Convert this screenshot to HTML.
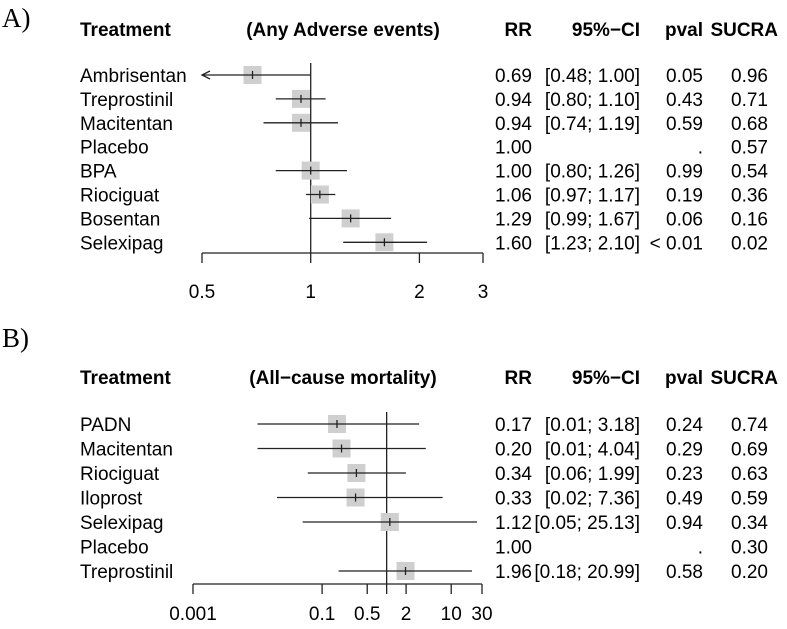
<!DOCTYPE html>
<html><head><meta charset="utf-8"><style>
body{margin:0;background:#fff}
svg{display:block;font-family:"Liberation Sans",Arial,sans-serif}
</style></head><body>
<svg id="s" width="787" height="629" viewBox="0 0 787 629">
<text x="2" y="27" font-family="Liberation Serif,serif" font-size="27">A)</text>
<text x="2" y="347" font-family="Liberation Serif,serif" font-size="27">B)</text>
<g id="ga"></g><g id="gb"></g>
</svg>
<script>
const namesA=["Ambrisentan","Treprostinil","Macitentan","Placebo","BPA","Riociguat","Bosentan","Selexipag"];
const rrA=[0.69,0.94,0.94,1.00,1.00,1.06,1.29,1.60];
const loA=[0.48,0.80,0.74,null,0.80,0.97,0.99,1.23];
const hiA=[1.00,1.10,1.19,null,1.26,1.17,1.67,2.10];
const pA=["0.05","0.43","0.59",".","0.99","0.19","0.06","< 0.01"];
const sucraA=["0.96","0.71","0.68","0.57","0.54","0.36","0.16","0.02"];
const ticksA=[0.5,1,2,3];
const tickLabelsA=["0.5","1","2","3"];

const namesB=["PADN","Macitentan","Riociguat","Iloprost","Selexipag","Placebo","Treprostinil"];
const rrB=[0.17,0.20,0.34,0.33,1.12,1.00,1.96];
const loB=[0.01,0.01,0.06,0.02,0.05,null,0.18];
const hiB=[3.18,4.04,1.99,7.36,25.13,null,20.99];
const pB=["0.24","0.29","0.23","0.49","0.94",".","0.58"];
const sucraB=["0.74","0.69","0.63","0.59","0.34","0.30","0.20"];
const ticksB=[0.001,0.1,0.5,1,2,10,30];
const tickLabelsB=["0.001","0.1","0.5","","2","10","30"];

const NS="http://www.w3.org/2000/svg";
const FS=19;
function mk(p,t,a,txt){const e=document.createElementNS(NS,t);for(const k in a)e.setAttribute(k,a[k]);if(txt!==undefined)e.textContent=txt;p.appendChild(e);return e;}

function panel(g,cfg){
  const {names,rr,lo,hi,p,sucra,ticks,labels,x0,x1,dmin,dmax,y0,dy,axisY,refTop,hy,title,key,lblOff}=cfg;
  const X=v=>x0+(Math.log(v)-Math.log(dmin))/(Math.log(dmax)-Math.log(dmin))*(x1-x0);
  const Y=i=>y0+i*dy;
  let t;
  t=mk(g,'text',{x:80,y:hy,'font-size':FS,'font-weight':'bold'},'Treatment');
  
  t=mk(g,'text',{x:343,y:hy,'font-size':FS,'font-weight':'bold','text-anchor':'middle'},title);
  
  const hd=[["RR",532],["95%\u2212CI",640],["pval",703],["SUCRA",778]];
  hd.forEach(h=>{t=mk(g,'text',{x:h[1],y:hy,'font-size':FS,'font-weight':'bold','text-anchor':'end'},h[0]);
    });
  let l=mk(g,'line',{x1:X(1),x2:X(1),y1:refTop,y2:axisY,stroke:'#222','stroke-width':1.3});
  
  l=mk(g,'line',{x1:x0,x2:x1,y1:axisY,y2:axisY,stroke:'#222','stroke-width':1.3});
  
  ticks.forEach((v,i)=>{
    const tk=mk(g,'line',{x1:X(v),x2:X(v),y1:axisY,y2:axisY+10,stroke:'#222','stroke-width':1.3});
    
    const tl=mk(g,'text',{x:X(v),y:axisY+lblOff,'font-size':FS,'text-anchor':'middle'},labels[i]);
    
  });
  names.forEach((n,i)=>{
    const y=Y(i);
    let e=mk(g,'text',{x:80,y:y+7,'font-size':FS},n);
    
    if(lo[i]!==null){
      const a=Math.max(lo[i],dmin),b=Math.min(hi[i],dmax);
      const s=9;
      e=mk(g,'rect',{x:X(rr[i])-s,y:y-s,width:2*s,height:2*s,fill:'#cfcfcf'});
      
      e=mk(g,'line',{x1:X(a),x2:X(b),y1:y,y2:y,stroke:'#222','stroke-width':1.3});
      
      e=mk(g,'line',{x1:X(rr[i]),x2:X(rr[i]),y1:y-4,y2:y+4,stroke:'#222','stroke-width':1.3});
      
      if(lo[i]<dmin){
        e=mk(g,'path',{d:`M${X(a)+8},${y-4} L${X(a)},${y} L${X(a)+8},${y+4}`,fill:'none',stroke:'#222','stroke-width':1.3});
        
      }
    }
    const f=v=>v.toFixed(2);
    const ci=lo[i]===null?"":`[${f(lo[i])}; ${f(hi[i])}]`;
    [[f(rr[i]),532,'rr-value'],[ci,640,'ci-value'],[p[i],703,'pval-value'],[sucra[i],768,'sucra-value']].forEach(c=>{
      e=mk(g,'text',{x:c[1],y:y+7,'font-size':FS,'text-anchor':'end'},c[0]);
      
    });
  });
}
panel(document.getElementById('ga'),{names:namesA,rr:rrA,lo:loA,hi:hiA,p:pA,sucra:sucraA,ticks:ticksA,labels:tickLabelsA,
  x0:202,x1:483,dmin:0.5,dmax:3,y0:75,dy:23.9,axisY:253,refTop:63,hy:36,title:'(Any Adverse events)',key:'panel-a',lblOff:45});
panel(document.getElementById('gb'),{names:namesB,rr:rrB,lo:loB,hi:hiB,p:pB,sucra:sucraB,ticks:ticksB,labels:tickLabelsB,
  x0:193,x1:482,dmin:0.001,dmax:30,y0:424,dy:24.5,axisY:584,refTop:412,hy:384,title:'(All\u2212cause mortality)',key:'panel-b',lblOff:36});
</script>
</body></html>
